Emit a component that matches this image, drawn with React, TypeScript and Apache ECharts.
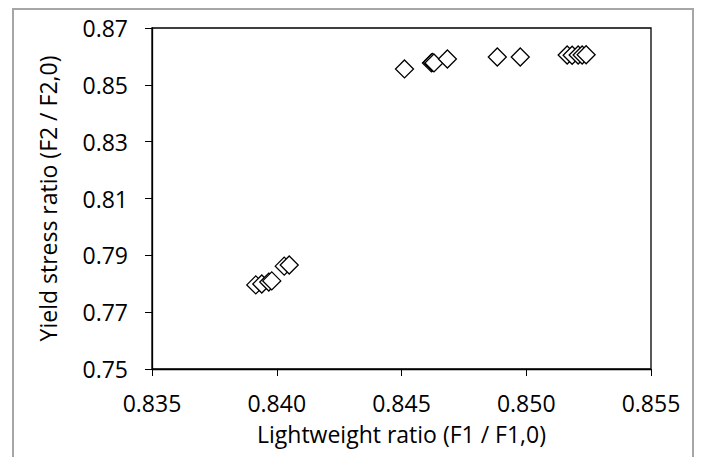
import React, { useEffect, useRef } from "react";
import * as echarts from "echarts";

const xValues = [
  0.83916, 0.8394, 0.83968, 0.8398, 0.8403, 0.8405,
  0.84512, 0.84620, 0.84624, 0.84630, 0.84684, 0.84884, 0.84976,
  0.85164, 0.85184, 0.85208, 0.85224, 0.85240,
];
const yValues = [
  0.7796, 0.7799, 0.7806, 0.781, 0.7862, 0.7866,
  0.8556, 0.8577, 0.8579, 0.8577, 0.8591, 0.8598, 0.8598,
  0.8605, 0.8604, 0.8605, 0.8605, 0.8606,
];
const xTicks = [0.835, 0.84, 0.845, 0.85, 0.855];
const yTicks = [0.75, 0.77, 0.79, 0.81, 0.83, 0.85, 0.87];

const FONT = "Open Sans";

export default function App() {
  const ref = useRef<HTMLDivElement>(null);
  useEffect(() => {
    document.body.style.margin = "0";
    if (!ref.current) return;
    const chart = echarts.init(ref.current, null, { renderer: "svg" });
    const data = xValues.map((x, i) => [x, yValues[i]]);
    chart.setOption({
      animation: false,
      backgroundColor: "#ffffff",
      graphic: [
        {
          type: "rect",
          shape: { x: 13, y: 9, width: 680, height: 470 },
          style: { fill: "none", stroke: "#a6a6a6", lineWidth: 2 },
          silent: true,
        },
      ],
      grid: { left: 152, right: 57, top: 28, bottom: 88, show: true, borderColor: "#000", borderWidth: 1.3, backgroundColor: "transparent" },
      xAxis: {
        type: "value",
        min: xTicks[0],
        max: xTicks[xTicks.length - 1],
        interval: 0.005,
        name: "Lightweight ratio (F1 / F1,0)",
        nameLocation: "middle",
        nameGap: 53,
        nameTextStyle: { fontFamily: FONT, fontSize: 23, color: "#000" },
        axisLine: { show: true, onZero: false, lineStyle: { color: "#000", width: 1.3 } },
        axisTick: { show: true, length: 7, lineStyle: { color: "#000" } },
        splitLine: { show: false },
        axisLabel: { fontFamily: FONT, fontSize: 23, color: "#000", margin: 22, formatter: (v: number) => v.toFixed(3) },
      },
      yAxis: {
        type: "value",
        min: yTicks[0],
        max: yTicks[yTicks.length - 1],
        interval: 0.02,
        name: "Yield stress ratio (F2 / F2,0)",
        nameLocation: "middle",
        nameGap: 93,
        nameTextStyle: { fontFamily: FONT, fontSize: 23, color: "#000" },
        axisLine: { show: true, onZero: false, lineStyle: { color: "#000", width: 1.3 } },
        axisTick: { show: true, length: 7, lineStyle: { color: "#000" } },
        splitLine: { show: false },
        axisLabel: { fontFamily: FONT, fontSize: 23, color: "#000", margin: 24, formatter: (v: number) => v.toFixed(2) },
      },
      series: [
        {
          type: "scatter",
          data,
          symbol: "diamond",
          symbolSize: 18,
          itemStyle: { color: "#ffffff", borderColor: "#000", borderWidth: 1.3, opacity: 1 },
          emphasis: { disabled: true },
        },
      ],
    });
    return () => chart.dispose();
  }, []);
  return <div ref={ref} style={{ width: 708, height: 457 }} />;
}
